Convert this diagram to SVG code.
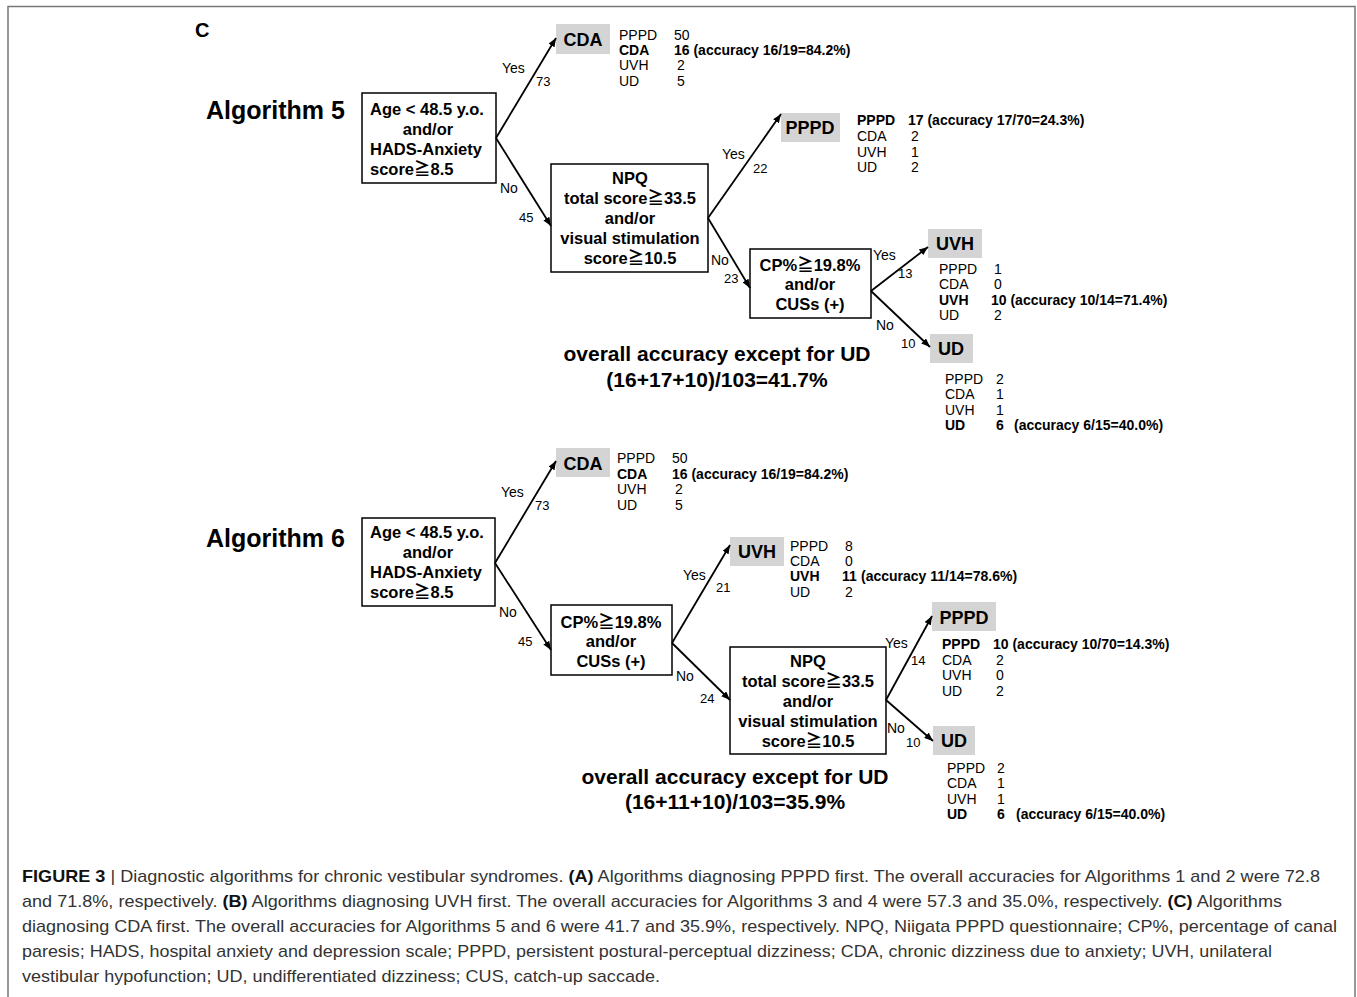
<svg xmlns="http://www.w3.org/2000/svg" width="1357" height="997" viewBox="0 0 1357 997">
<defs>
<marker id="arr" viewBox="0 0 10 8" refX="10" refY="4" markerWidth="9" markerHeight="7" markerUnits="userSpaceOnUse" orient="auto">
<path d="M0,0 L10,4 L0,8 z" fill="#000"/>
</marker>
<style>
text{font-family:"Liberation Sans",Arial,"Noto Sans CJK JP",sans-serif;fill:#000}
.nb{font-size:16.5px;font-weight:bold}
.mid{text-anchor:middle}
.leaf{font-size:18px;font-weight:bold;text-anchor:middle}
.s{font-size:14px}
.b{font-weight:bold}
.lbl{font-size:14px}
.num{font-size:13px}
.title{font-size:25px;font-weight:bold}
.ov{font-size:21px;font-weight:bold;text-anchor:middle}
.box{fill:#fff;stroke:#000;stroke-width:1.5}
.gbox{fill:#d4d4d4;stroke:none}
.edge{stroke:#000;stroke-width:1.8;fill:none;marker-end:url(#arr)}
.cap{font-size:17px;fill:#333}
.cap .b{fill:#111}
</style>
</defs>
<rect width="1357" height="997" fill="#fff"/>
<rect x="8" y="6.5" width="1347" height="1000" fill="none" stroke="#777" stroke-width="1.5"/>

<text x="195" y="37" style="font-size:20px;font-weight:bold">C</text>

<!-- ===== Algorithm 5 ===== -->
<text class="title" x="206" y="119">Algorithm 5</text>
<text class="ov" x="717" y="361">overall accuracy except for UD</text>
<text class="ov" x="717" y="387">(16+17+10)/103=41.7%</text>

<g id="a5-root">
<rect class="box" x="362" y="93" width="134" height="90"/>
<text class="nb" x="370" y="115">Age &lt; 48.5 y.o.</text>
<text class="nb mid" x="428" y="135">and/or</text>
<text class="nb" x="370" y="155">HADS-Anxiety</text>
<text class="nb" x="370" y="175">score≧8.5</text>
</g>

<g id="a5-cda">
<rect class="gbox" x="556" y="24" width="54" height="30"/>
<text class="leaf" x="583" y="46">CDA</text>
<text class="s" x="619" y="40">PPPD</text><text class="s" x="674" y="40">50</text>
<text class="s b" x="619" y="55">CDA</text><text class="s b" x="674" y="55">16 (accuracy 16/19=84.2%)</text>
<text class="s" x="619" y="70">UVH</text><text class="s" x="677" y="70">2</text>
<text class="s" x="619" y="86">UD</text><text class="s" x="677" y="86">5</text>
</g>

<g id="a5-npq">
<rect class="box" x="551" y="164" width="157" height="108"/>
<text class="nb mid" x="630" y="184">NPQ</text>
<text class="nb mid" x="630" y="204">total score≧33.5</text>
<text class="nb mid" x="630" y="224">and/or</text>
<text class="nb mid" x="630" y="244">visual stimulation</text>
<text class="nb mid" x="630" y="264">score≧10.5</text>
</g>

<g id="a5-pppd">
<rect class="gbox" x="781" y="113" width="59" height="29"/>
<text class="leaf" x="810" y="134">PPPD</text>
<text class="s b" x="857" y="125">PPPD</text><text class="s b" x="908" y="125">17 (accuracy 17/70=24.3%)</text>
<text class="s" x="857" y="141">CDA</text><text class="s" x="911" y="141">2</text>
<text class="s" x="857" y="157">UVH</text><text class="s" x="911" y="157">1</text>
<text class="s" x="857" y="172">UD</text><text class="s" x="911" y="172">2</text>
</g>

<g id="a5-cp">
<rect class="box" x="750" y="249" width="121" height="69"/>
<text class="nb mid" x="810" y="271">CP%≧19.8%</text>
<text class="nb mid" x="810" y="290">and/or</text>
<text class="nb mid" x="810" y="310">CUSs (+)</text>
</g>

<g id="a5-uvh">
<rect class="gbox" x="928" y="229" width="54" height="29"/>
<text class="leaf" x="955" y="250">UVH</text>
<text class="s" x="939" y="274">PPPD</text><text class="s" x="994" y="274">1</text>
<text class="s" x="939" y="289">CDA</text><text class="s" x="994" y="289">0</text>
<text class="s b" x="939" y="305">UVH</text><text class="s b" x="991" y="305">10 (accuracy 10/14=71.4%)</text>
<text class="s" x="939" y="320">UD</text><text class="s" x="994" y="320">2</text>
</g>

<g id="a5-ud">
<rect class="gbox" x="930" y="334" width="43" height="29"/>
<text class="leaf" x="951" y="355">UD</text>
<text class="s" x="945" y="384">PPPD</text><text class="s" x="996" y="384">2</text>
<text class="s" x="945" y="399">CDA</text><text class="s" x="996" y="399">1</text>
<text class="s" x="945" y="415">UVH</text><text class="s" x="996" y="415">1</text>
<text class="s b" x="945" y="430">UD</text><text class="s b" x="996" y="430">6</text><text class="s b" x="1014" y="430">(accuracy 6/15=40.0%)</text>
</g>

<!-- ===== Algorithm 6 ===== -->
<text class="title" x="206" y="547">Algorithm 6</text>
<text class="ov" x="735" y="784">overall accuracy except for UD</text>
<text class="ov" x="735" y="809">(16+11+10)/103=35.9%</text>

<g id="a6-root">
<rect class="box" x="362" y="518" width="133" height="88"/>
<text class="nb" x="370" y="538">Age &lt; 48.5 y.o.</text>
<text class="nb mid" x="428" y="558">and/or</text>
<text class="nb" x="370" y="578">HADS-Anxiety</text>
<text class="nb" x="370" y="598">score≧8.5</text>
</g>

<g id="a6-cda">
<rect class="gbox" x="556" y="448" width="54" height="29"/>
<text class="leaf" x="583" y="470">CDA</text>
<text class="s" x="617" y="463">PPPD</text><text class="s" x="672" y="463">50</text>
<text class="s b" x="617" y="479">CDA</text><text class="s b" x="672" y="479">16 (accuracy 16/19=84.2%)</text>
<text class="s" x="617" y="494">UVH</text><text class="s" x="675" y="494">2</text>
<text class="s" x="617" y="510">UD</text><text class="s" x="675" y="510">5</text>
</g>

<g id="a6-cp">
<rect class="box" x="551" y="605" width="121" height="70"/>
<text class="nb mid" x="611" y="628">CP%≧19.8%</text>
<text class="nb mid" x="611" y="647">and/or</text>
<text class="nb mid" x="611" y="667">CUSs (+)</text>
</g>

<g id="a6-uvh">
<rect class="gbox" x="730" y="537" width="54" height="29"/>
<text class="leaf" x="757" y="558">UVH</text>
<text class="s" x="790" y="551">PPPD</text><text class="s" x="845" y="551">8</text>
<text class="s" x="790" y="566">CDA</text><text class="s" x="845" y="566">0</text>
<text class="s b" x="790" y="581">UVH</text><text class="s b" x="842" y="581">11</text><text class="s b" x="861" y="581">(accuracy 11/14=78.6%)</text>
<text class="s" x="790" y="597">UD</text><text class="s" x="845" y="597">2</text>
</g>

<g id="a6-npq">
<rect class="box" x="730" y="647" width="156" height="107"/>
<text class="nb mid" x="808" y="667">NPQ</text>
<text class="nb mid" x="808" y="687">total score≧33.5</text>
<text class="nb mid" x="808" y="707">and/or</text>
<text class="nb mid" x="808" y="727">visual stimulation</text>
<text class="nb mid" x="808" y="747">score≧10.5</text>
</g>

<g id="a6-pppd">
<rect class="gbox" x="932" y="602" width="64" height="29"/>
<text class="leaf" x="964" y="624">PPPD</text>
<text class="s b" x="942" y="649">PPPD</text><text class="s b" x="993" y="649">10 (accuracy 10/70=14.3%)</text>
<text class="s" x="942" y="665">CDA</text><text class="s" x="996" y="665">2</text>
<text class="s" x="942" y="680">UVH</text><text class="s" x="996" y="680">0</text>
<text class="s" x="942" y="696">UD</text><text class="s" x="996" y="696">2</text>
</g>

<g id="a6-ud">
<rect class="gbox" x="933" y="726" width="42" height="29"/>
<text class="leaf" x="954" y="747">UD</text>
<text class="s" x="947" y="773">PPPD</text><text class="s" x="997" y="773">2</text>
<text class="s" x="947" y="788">CDA</text><text class="s" x="997" y="788">1</text>
<text class="s" x="947" y="804">UVH</text><text class="s" x="997" y="804">1</text>
<text class="s b" x="947" y="819">UD</text><text class="s b" x="997" y="819">6</text><text class="s b" x="1016" y="819">(accuracy 6/15=40.0%)</text>
</g>

<!-- ===== Connectors ===== -->
<g id="connectors">
<line class="edge" x1="496" y1="138" x2="556" y2="38"/>
<line class="edge" x1="496" y1="138" x2="551" y2="226"/>
<line class="edge" x1="708" y1="218" x2="781" y2="114"/>
<line class="edge" x1="708" y1="218" x2="750" y2="288"/>
<line class="edge" x1="871" y1="291" x2="928" y2="247"/>
<line class="edge" x1="871" y1="291" x2="930" y2="347"/>

<line class="edge" x1="495" y1="563" x2="556" y2="461"/>
<line class="edge" x1="495" y1="563" x2="551" y2="650"/>
<line class="edge" x1="672" y1="643" x2="730" y2="545"/>
<line class="edge" x1="672" y1="643" x2="730" y2="700"/>
<line class="edge" x1="886" y1="700" x2="932" y2="616"/>
<line class="edge" x1="886" y1="700" x2="933" y2="741"/>

<text class="lbl" x="502" y="73">Yes</text><text class="num" x="536" y="86">73</text>
<text class="lbl" x="500" y="193">No</text><text class="num" x="519" y="222">45</text>
<text class="lbl" x="722" y="159">Yes</text><text class="num" x="753" y="173">22</text>
<text class="lbl" x="711" y="265">No</text><text class="num" x="724" y="283">23</text>
<text class="lbl" x="873" y="260">Yes</text><text class="num" x="898" y="278">13</text>
<text class="lbl" x="876" y="330">No</text><text class="num" x="901" y="348">10</text>

<text class="lbl" x="501" y="497">Yes</text><text class="num" x="535" y="510">73</text>
<text class="lbl" x="499" y="617">No</text><text class="num" x="518" y="646">45</text>
<text class="lbl" x="683" y="580">Yes</text><text class="num" x="716" y="592">21</text>
<text class="lbl" x="676" y="681">No</text><text class="num" x="700" y="703">24</text>
<text class="lbl" x="885" y="648">Yes</text><text class="num" x="911" y="665">14</text>
<text class="lbl" x="887" y="733">No</text><text class="num" x="906" y="747">10</text>
</g>

<!-- ===== Caption ===== -->
<g id="caption">
<text class="cap" x="22" y="882" textLength="1298" lengthAdjust="spacingAndGlyphs"><tspan class="b" font-weight="bold">FIGURE 3</tspan> | Diagnostic algorithms for chronic vestibular syndromes. <tspan class="b" font-weight="bold">(A)</tspan> Algorithms diagnosing PPPD first. The overall accuracies for Algorithms 1 and 2 were 72.8</text>
<text class="cap" x="22" y="907" textLength="1260" lengthAdjust="spacingAndGlyphs">and 71.8%, respectively. <tspan class="b" font-weight="bold">(B)</tspan> Algorithms diagnosing UVH first. The overall accuracies for Algorithms 3 and 4 were 57.3 and 35.0%, respectively. <tspan class="b" font-weight="bold">(C)</tspan> Algorithms</text>
<text class="cap" x="22" y="932" textLength="1315" lengthAdjust="spacingAndGlyphs">diagnosing CDA first. The overall accuracies for Algorithms 5 and 6 were 41.7 and 35.9%, respectively. NPQ, Niigata PPPD questionnaire; CP%, percentage of canal</text>
<text class="cap" x="22" y="957" textLength="1250" lengthAdjust="spacingAndGlyphs">paresis; HADS, hospital anxiety and depression scale; PPPD, persistent postural-perceptual dizziness; CDA, chronic dizziness due to anxiety; UVH, unilateral</text>
<text class="cap" x="22" y="982" textLength="638" lengthAdjust="spacingAndGlyphs">vestibular hypofunction; UD, undifferentiated dizziness; CUS, catch-up saccade.</text>
</g>
</svg>
